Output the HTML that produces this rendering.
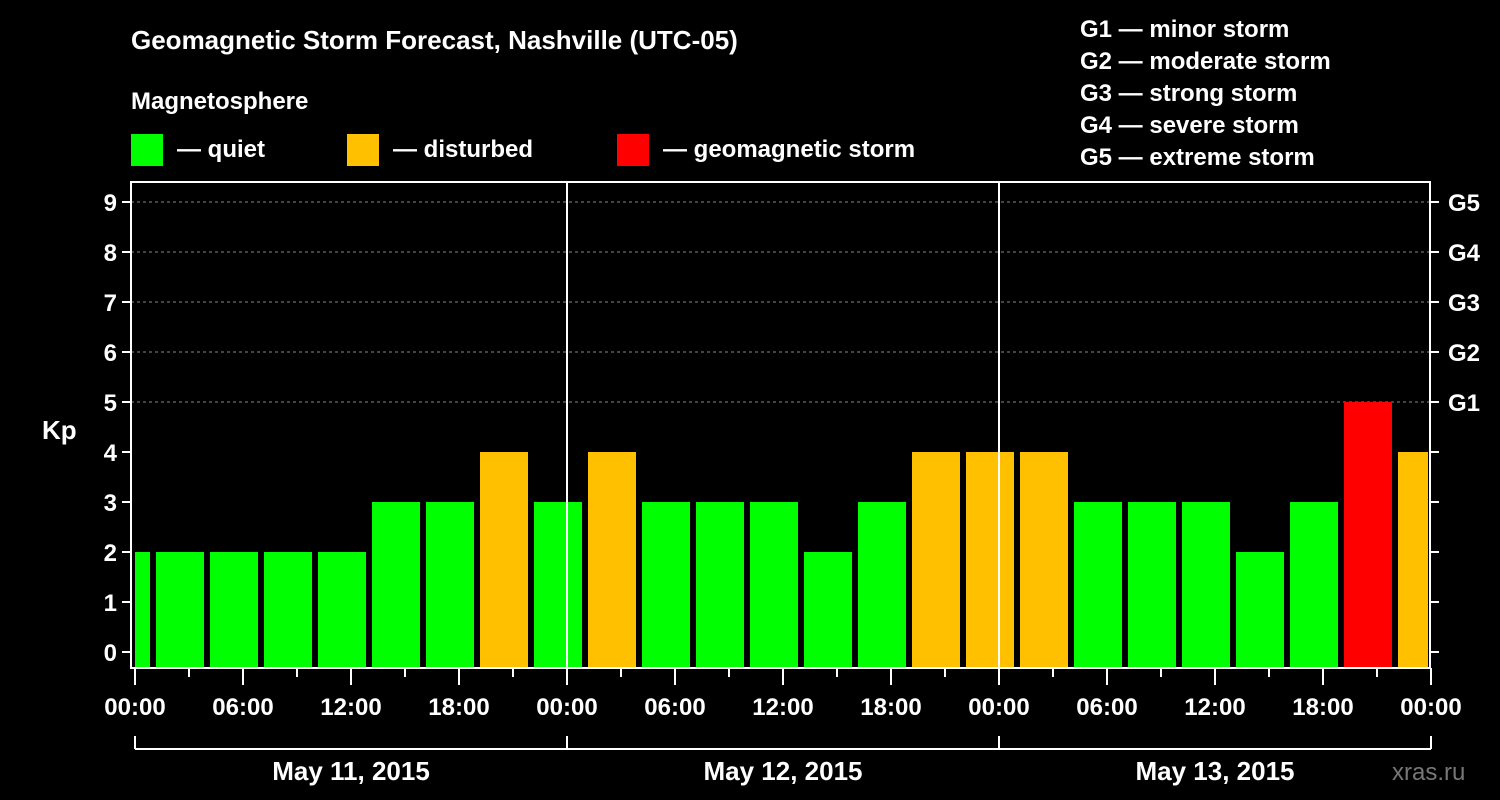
<!DOCTYPE html>
<html><head><meta charset="utf-8"><style>
html,body{margin:0;padding:0;background:#000;width:1500px;height:800px;overflow:hidden}
svg text{font-family:"Liberation Sans",Arial,sans-serif;font-weight:bold;fill:#fff}
</style></head><body>
<svg id="chart" width="1500" height="800" xmlns="http://www.w3.org/2000/svg">
<text x="131" y="49" font-size="26">Geomagnetic Storm Forecast, Nashville (UTC-05)</text>
<text x="131" y="109" font-size="24">Magnetosphere</text>
<rect x="131" y="134" width="32" height="32" fill="#00ff00"/>
<text x="177" y="157" font-size="24">— quiet</text>
<rect x="347" y="134" width="32" height="32" fill="#ffc000"/>
<text x="393" y="157" font-size="24">— disturbed</text>
<rect x="617" y="134" width="32" height="32" fill="#ff0000"/>
<text x="663" y="157" font-size="24">— geomagnetic storm</text>
<g font-size="24">
<text x="1080" y="37">G1 — minor storm</text>
<text x="1080" y="69">G2 — moderate storm</text>
<text x="1080" y="101">G3 — strong storm</text>
<text x="1080" y="133">G4 — severe storm</text>
<text x="1080" y="165">G5 — extreme storm</text>
</g>
<text x="42" y="439" font-size="26">Kp</text>
<text x="1392" y="780" font-size="24" style="fill:#777;font-weight:normal">xras.ru</text>
<g id="grid"></g><g id="bars"></g><g id="axes"></g>
</svg>
<script>
const barStartHours=[-2,1,4,7,10,13,16,19,22,25,28,31,34,37,40,43,46,49,52,55,58,61,64,67,70];
const kpValues=[2,2,2,2,2,3,3,4,3,4,3,3,3,2,3,4,4,4,3,3,3,2,3,5,4];
const yTicks=[0,1,2,3,4,5,6,7,8,9];
const gLabels=["G1","G2","G3","G4","G5"];
const xTickLabels=["00:00","06:00","12:00","18:00"];
const dayLabels=["May 11, 2015","May 12, 2015","May 13, 2015"];
const NS="http://www.w3.org/2000/svg";
const X0=135,PXH=18,Y0=652,PXK=50,LEFT=131,RIGHT=1430,TOP=182,BOT=668;
const x=h=>X0+h*PXH, y=k=>Y0-k*PXK;
function mk(tag,attrs,parent,txt){const e=document.createElementNS(NS,tag);for(const k in attrs)e.setAttribute(k,attrs[k]);if(txt!==undefined)e.textContent=txt;parent.appendChild(e);return e;}
const grid=document.getElementById('grid'),bars=document.getElementById('bars'),axes=document.getElementById('axes');
yTicks.forEach(k=>{if(k>=5){const l=mk('line',{x1:LEFT,x2:RIGHT,y1:y(k),y2:y(k),stroke:'#888','stroke-dasharray':'3,3','stroke-width':1},grid);

}});
barStartHours.forEach((h,i)=>{const v=kpValues[i];let x1=Math.max(x(h)+3,X0),x2=Math.min(x(h+3)-3,RIGHT-2);
const c=v>=5?'#ff0000':v>=4?'#ffc000':'#00ff00';
const r=mk('rect',{x:x1,y:y(v),width:x2-x1,height:BOT-1-y(v),fill:c},bars);

});
// day separators
[1,2].forEach(d=>{const l=mk('line',{x1:x(24*d),x2:x(24*d),y1:TOP,y2:BOT,stroke:'#fff','stroke-width':2},axes);

});
const frame=mk('rect',{x:LEFT,y:TOP,width:RIGHT-LEFT,height:BOT-TOP,fill:'none',stroke:'#fff','stroke-width':2},axes);


yTicks.forEach(k=>{mk('line',{x1:LEFT-9,x2:LEFT,y1:y(k),y2:y(k),stroke:'#fff','stroke-width':2},axes);
mk('line',{x1:RIGHT,x2:RIGHT+9,y1:y(k),y2:y(k),stroke:'#fff','stroke-width':2},axes);
const t=mk('text',{x:LEFT-14,y:y(k)+9,'font-size':24,'text-anchor':'end'},axes,k);

});
gLabels.forEach((g,i)=>{const t=mk('text',{x:1448,y:y(5+i)+9,'font-size':24},axes,g);

});
for(let h=0;h<=72;h+=3){const major=h%6==0;mk('line',{x1:x(h),x2:x(h),y1:BOT,y2:BOT+(major?17:9),stroke:'#fff','stroke-width':2},axes);
if(major){const t=mk('text',{x:x(h),y:715,'font-size':24,'text-anchor':'middle'},axes,xTickLabels[(h%24)/6]);

}}
mk('line',{x1:x(0),x2:x(72),y1:749,y2:749,stroke:'#fff','stroke-width':2},axes);
for(let d=0;d<=3;d++)mk('line',{x1:x(24*d),x2:x(24*d),y1:736,y2:749,stroke:'#fff','stroke-width':2},axes);
dayLabels.forEach((s,d)=>{const t=mk('text',{x:x(24*d+12),y:780,'font-size':26,'text-anchor':'middle'},axes,s);

});
</script>
</body></html>
